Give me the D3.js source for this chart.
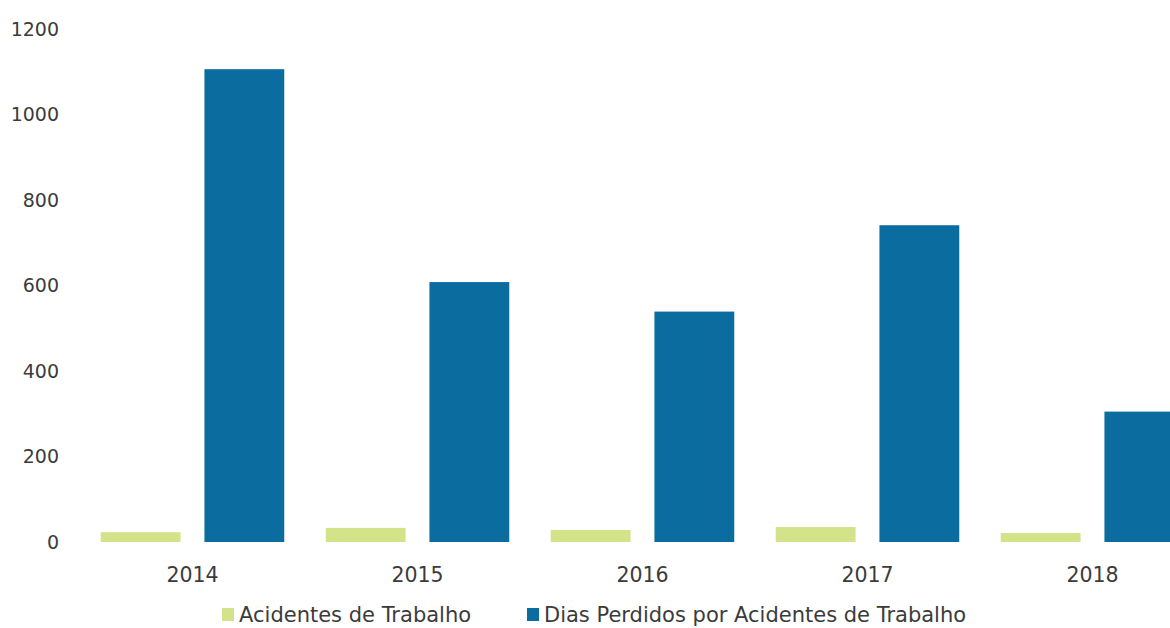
<!DOCTYPE html>
<html>
<head>
<meta charset="utf-8">
<script src="https://cdn.jsdelivr.net/npm/d3@7"></script>
<style>
  html, body { margin: 0; padding: 0; background: #fff; }
  svg { display: block; }
  text { font-family: "DejaVu Sans", Tahoma, sans-serif; fill: #3b3b3b; }
</style>
</head>
<body>
<svg id="chart" width="1170" height="628"></svg>
<script>
// Accident statistics per year
const years = ["2014", "2015", "2016", "2017", "2018"];
const seriesNames = ["Acidentes de Trabalho", "Dias Perdidos por Acidentes de Trabalho"];
const acidentes = [23, 33, 28, 35, 21];
const diasPerdidos = [1106, 608, 539, 741, 305];
const yTicks = [0, 200, 400, 600, 800, 1000, 1200];
const seriesColors = ["#d3e38a", "#0b6d9f"];

const svg = d3.select("#chart");

const x0 = d3.scaleBand().domain(years).range([80, 1205]).paddingInner(0).paddingOuter(0);
const x1 = d3.scaleBand().domain(seriesNames).range([0, x0.bandwidth()]).paddingInner(0.23).paddingOuter(0.2);
const y = d3.scaleLinear().domain([0, 1200]).range([542, 29]);
const color = d3.scaleOrdinal().domain(seriesNames).range(seriesColors);

const rows = years.map((yr, i) => ({
  year: yr,
  values: [
    { name: seriesNames[0], value: acidentes[i] },
    { name: seriesNames[1], value: diasPerdidos[i] }
  ]
}));

// Y axis labels only (no line, no gridlines)
const yAxis = d3.axisLeft(y).tickValues(yTicks).tickSize(0).tickPadding(0).tickFormat(d3.format("d"));
const gy = svg.append("g").attr("transform", "translate(59,0)").call(yAxis);
gy.select(".domain").remove();
gy.selectAll("text").style("font-size", "19px").attr("fill", "#3b3b3b").attr("font-family", null);

// Bars
const groups = svg.append("g").selectAll("g")
  .data(rows).join("g")
  .attr("transform", d => `translate(${x0(d.year)},0)`);

groups.selectAll("rect")
  .data(d => d.values).join("rect")
  .attr("x", d => x1(d.name))
  .attr("width", x1.bandwidth())
  .attr("y", d => y(d.value))
  .attr("height", d => y(0) - y(d.value))
  .attr("fill", d => color(d.name));

// X axis labels
const xAxis = d3.axisBottom(x0).tickSize(0).tickPadding(0);
const gx = svg.append("g").attr("transform", "translate(0,567)").call(xAxis);
gx.select(".domain").remove();
gx.selectAll("text").style("font-size", "20.5px").attr("fill", "#3b3b3b").attr("font-family", null);

// Legend
const legend = svg.append("g").attr("transform", "translate(0,615)");
const legendItems = [
  { name: seriesNames[0], x: 222 },
  { name: seriesNames[1], x: 527 }
];
const li = legend.selectAll("g").data(legendItems).join("g")
  .attr("transform", d => `translate(${d.x},0)`);
li.append("rect").attr("x", 0).attr("y", -7).attr("width", 12).attr("height", 13)
  .attr("fill", d => color(d.name));
li.append("text").attr("x", 17).attr("dy", "0.35em")
  .style("font-size", "21px").text(d => d.name);
</script>
</body>
</html>
